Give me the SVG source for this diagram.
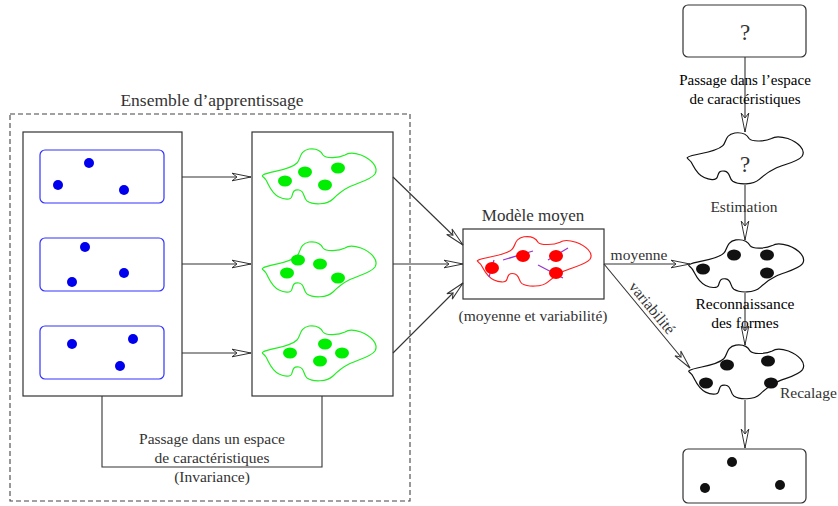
<svg xmlns="http://www.w3.org/2000/svg" xmlns:xlink="http://www.w3.org/1999/xlink" width="838" height="506" viewBox="0 0 838 506">
<style>
.t{font-family:"Liberation Serif","Times New Roman",serif;fill:#333;text-anchor:middle}
.tb{font-family:"Liberation Serif","Times New Roman",serif;fill:#000;text-anchor:middle}
.ln{stroke:#333;stroke-width:1.1;fill:none}
.box{stroke:#333;stroke-width:1.2;fill:#fff}
.brect{stroke:#3333ff;stroke-width:1.2;fill:none}
.bdot{fill:#0000ee}
.gdot{fill:#00ee00}
.rdot{fill:#ff0000}
.kdot{fill:#111}
.pl{stroke:#9933cc;stroke-width:1.2}
</style>
<defs>
<marker id="ah" viewBox="-21 -6 23 12" refX="0" refY="0" markerWidth="23" markerHeight="12" markerUnits="userSpaceOnUse" orient="auto">
<path d="M0,0 L-19,-3.8 L-14,0 L-19,3.8 Z" fill="#fff" stroke="#333" stroke-width="1"/>
</marker>
<path id="blob" d="M-56,-2 C-50,-6 -30,-6 -22,-14 C-18,-18 -20,-26 -10,-28 C-2,-29 2,-26 4,-22 C7,-18 20,-19 26,-22 C30,-25 36,-24 42,-22 C52,-18 60,-10 56,-3 C52,3 38,6 30,10 C22,14 18,18 14,22 C8,28 -6,28 -12,24 C-16,21 -14,14 -20,13 C-26,12 -26,16 -27,19 C-28,24 -36,22 -40,20 C-48,16 -50,8 -53,3 C-55,0 -58,-1 -56,-2 Z"/>
</defs>
<rect width="838" height="506" fill="#fff"/>

<g id="training-set">
<rect x="10" y="114" width="400" height="387" fill="none" stroke="#444" stroke-width="1.1" stroke-dasharray="5,3"/>
<text class="t" x="212" y="106" font-size="17.5">Ensemble d’apprentissage</text>
</g>

<g id="images">
<rect class="box" x="23" y="132" width="159" height="264"/>
<rect class="brect" x="40" y="150" width="124" height="53" rx="5"/>
<circle class="bdot" cx="89" cy="163" r="5"/>
<circle class="bdot" cx="58" cy="185" r="5"/>
<circle class="bdot" cx="124" cy="190" r="5"/>
<rect class="brect" x="40" y="238" width="124" height="53" rx="5"/>
<circle class="bdot" cx="85" cy="247" r="5"/>
<circle class="bdot" cx="72" cy="282" r="5"/>
<circle class="bdot" cx="124" cy="273" r="5"/>
<rect class="brect" x="40" y="326" width="124" height="53" rx="5"/>
<circle class="bdot" cx="72" cy="344" r="5"/>
<circle class="bdot" cx="133" cy="339" r="5"/>
<circle class="bdot" cx="120" cy="366" r="5"/>
</g>

<g id="features">
<rect class="box" x="252" y="132" width="141" height="264"/>
<use xlink:href="#blob" href="#blob" transform="translate(319,177)" fill="none" stroke="#22ee22" stroke-width="1.2"/>
<ellipse class="gdot" cx="285" cy="181" rx="7" ry="5.5"/>
<ellipse class="gdot" cx="305" cy="172" rx="7" ry="5.5"/>
<ellipse class="gdot" cx="338" cy="168" rx="7" ry="5.5"/>
<ellipse class="gdot" cx="325" cy="185" rx="7" ry="5.5"/>
<use xlink:href="#blob" href="#blob" transform="translate(319,270)" fill="none" stroke="#22ee22" stroke-width="1.2"/>
<ellipse class="gdot" cx="287" cy="273" rx="7" ry="5.5"/>
<ellipse class="gdot" cx="298" cy="260" rx="7" ry="5.5"/>
<ellipse class="gdot" cx="320" cy="264" rx="7" ry="5.5"/>
<ellipse class="gdot" cx="338" cy="278" rx="7" ry="5.5"/>
<use xlink:href="#blob" href="#blob" transform="translate(319,354)" fill="none" stroke="#22ee22" stroke-width="1.2"/>
<ellipse class="gdot" cx="290" cy="353" rx="7" ry="5.5"/>
<ellipse class="gdot" cx="325" cy="344" rx="7" ry="5.5"/>
<ellipse class="gdot" cx="342" cy="353" rx="7" ry="5.5"/>
<ellipse class="gdot" cx="320" cy="361" rx="7" ry="5.5"/>
</g>

<g id="mean-model">
<text class="t" x="533" y="221" font-size="17">Modèle moyen</text>
<rect class="box" x="463" y="229" width="141" height="70"/>
<use xlink:href="#blob" href="#blob" transform="translate(534,262) scale(1,0.9)" fill="none" stroke="#ff2222" stroke-width="1.2"/>
<line class="pl" x1="494" y1="260" x2="489" y2="277"/>
<line class="pl" x1="503" y1="260" x2="533" y2="251"/>
<line class="pl" x1="548" y1="260" x2="568" y2="248"/>
<line class="pl" x1="538" y1="265" x2="563" y2="278"/>
<ellipse class="rdot" cx="492" cy="268" rx="7" ry="6"/>
<ellipse class="rdot" cx="523" cy="256" rx="7" ry="6"/>
<ellipse class="rdot" cx="556" cy="256" rx="7" ry="6"/>
<ellipse class="rdot" cx="556" cy="273" rx="7" ry="6"/>
<text class="t" x="533" y="321" font-size="15.5">(moyenne et variabilité)</text>
</g>

<g id="unknown-image">
<rect class="box" x="683" y="5" width="123" height="52" rx="5"/>
<text class="t" x="745" y="40" font-size="23" fill="#111">?</text>
</g>

<g id="unknown-features">
<use xlink:href="#blob" href="#blob" transform="translate(745,159) scale(1.02,0.93)" fill="#fff" stroke="#111" stroke-width="1.2"/>
<text class="t" x="745" y="172" font-size="23">?</text>
</g>

<g id="estimated">
<use xlink:href="#blob" href="#blob" transform="translate(746,266.5) scale(1.01,0.95)" fill="#fff" stroke="#111" stroke-width="1.2"/>
<ellipse class="kdot" cx="703" cy="269" rx="7" ry="5.5"/>
<ellipse class="kdot" cx="734" cy="255" rx="7" ry="5.5"/>
<ellipse class="kdot" cx="767" cy="255" rx="7" ry="5.5"/>
<ellipse class="kdot" cx="767" cy="273" rx="7" ry="5.5"/>
</g>

<g id="registered">
<use xlink:href="#blob" href="#blob" transform="translate(746,372.5) scale(1.01,0.98)" fill="#fff" stroke="#111" stroke-width="1.2"/>
<ellipse class="kdot" cx="727" cy="365" rx="7" ry="5.5"/>
<ellipse class="kdot" cx="768" cy="361" rx="7" ry="5.5"/>
<ellipse class="kdot" cx="706" cy="383" rx="7" ry="5.5"/>
<ellipse class="kdot" cx="771" cy="383" rx="7" ry="5.5"/>
</g>

<g id="result">
<rect class="box" x="683" y="449" width="123" height="54" rx="5"/>
<circle class="kdot" cx="732" cy="462" r="5"/>
<circle class="kdot" cx="705" cy="488" r="5"/>
<circle class="kdot" cx="780" cy="485" r="5"/>
</g>

<g id="connectors">
<line class="ln" x1="182" y1="177" x2="251" y2="177" marker-end="url(#ah)"/>
<line class="ln" x1="182" y1="264" x2="251" y2="264" marker-end="url(#ah)"/>
<line class="ln" x1="182" y1="353" x2="251" y2="353" marker-end="url(#ah)"/>
<polyline class="ln" points="102,396 102,467 322,467 322,396"/>
<line class="ln" x1="393" y1="177" x2="463" y2="245" marker-end="url(#ah)"/>
<line class="ln" x1="393" y1="264" x2="463" y2="264" marker-end="url(#ah)"/>
<line class="ln" x1="393" y1="353" x2="463" y2="283" marker-end="url(#ah)"/>
<line class="ln" x1="604" y1="264" x2="690" y2="264" marker-end="url(#ah)"/>
<line class="ln" x1="604" y1="264" x2="690" y2="368" marker-end="url(#ah)"/>
<line class="ln" x1="745" y1="57" x2="745" y2="132" marker-end="url(#ah)"/>
<line class="ln" x1="745" y1="185" x2="745" y2="240" marker-end="url(#ah)"/>
<line class="ln" x1="745" y1="293" x2="745" y2="345" marker-end="url(#ah)"/>
<line class="ln" x1="745" y1="400" x2="745" y2="448" marker-end="url(#ah)"/>
</g>

<g id="labels">
<text class="t" x="212" y="444" font-size="15.5">Passage dans un espace</text>
<text class="t" x="212" y="463" font-size="15.5">de caractéristiques</text>
<text class="t" x="212" y="482" font-size="15.5">(Invariance)</text>
<text class="t" x="639" y="260" font-size="15.5">moyenne</text>
<text class="t" x="0" y="0" font-size="15.5" text-anchor="start" transform="translate(628,287) rotate(50.4)" style="text-anchor:start">variabilité</text>
<text class="tb" x="745" y="85" font-size="15">Passage dans l’espace</text>
<text class="tb" x="745" y="104" font-size="15">de caractéristiques</text>
<text class="t" x="744" y="212" font-size="15.5">Estimation</text>
<text class="tb" x="745" y="309" font-size="15.5">Reconnaissance</text>
<text class="tb" x="745" y="328" font-size="15.5">des formes</text>
<text class="t" x="780" y="398" font-size="15.5" style="text-anchor:start">Recalage</text>
</g>
</svg>
